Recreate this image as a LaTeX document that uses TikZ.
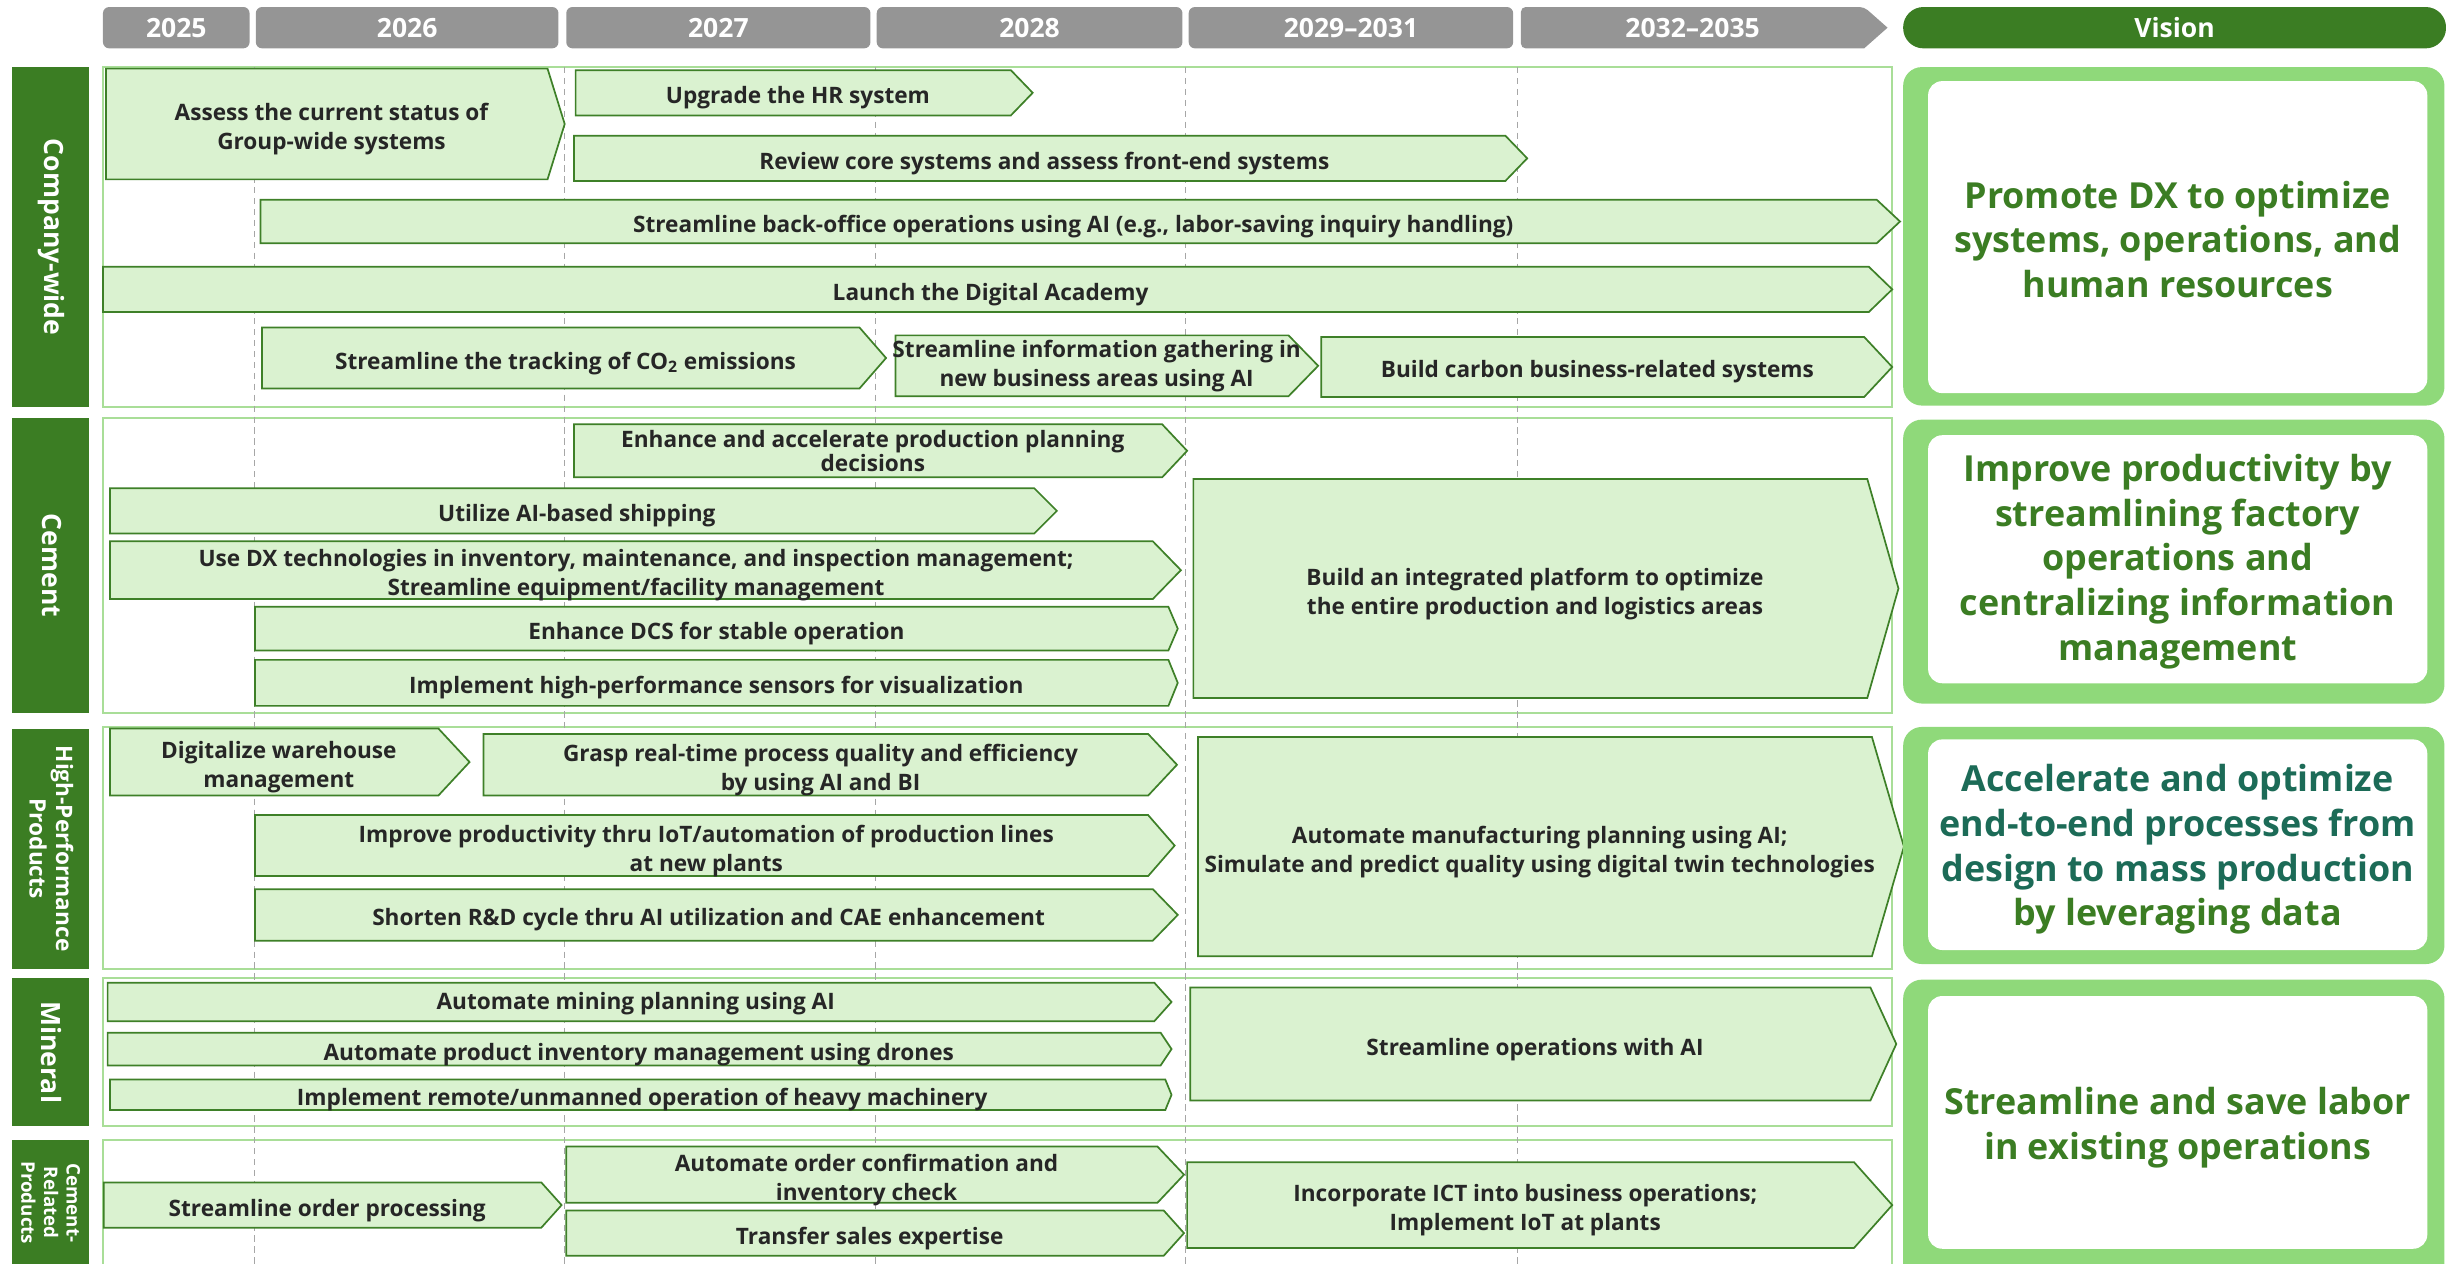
\documentclass[tikz,border=0pt]{standalone}
\usepackage{fontspec}
\setmainfont{Open Sans}
\definecolor{dkgreen}{HTML}{3B7D23}
\definecolor{boxfill}{HTML}{DAF2D0}
\definecolor{boxline}{HTML}{3E8028}
\definecolor{panelline}{HTML}{A9DE98}
\definecolor{visgreen}{HTML}{8FD97A}
\definecolor{hdrgrey}{HTML}{959595}
\definecolor{gridgrey}{HTML}{A6A6A6}
\definecolor{txt}{HTML}{262626}
\definecolor{visteal}{HTML}{1C6B57}
% [node options]{name}{x1}{x2 body right}{x tip}{y top}{y bottom}{text}
\newcommand{\chev}[8][]{%
  \draw[chevbox] (#3,#6) -- (#4,#6) -- (#5,{(#6+#7)/2}) -- (#4,#7) -- (#3,#7) -- cycle;
  \node[boxtext,#1] (#2) at ({(#3+#4)/2+3},{(#6+#7)/2}) {#8};
}
\begin{document}
\begin{tikzpicture}[x=1pt,y=-1pt,
  chevbox/.style={draw=boxline, fill=boxfill, line width=1.1pt, line join=miter},
  boxtext/.style={text=txt, font=\bfseries\fontsize{14.5}{18.5}\selectfont, align=center, inner sep=0pt, yshift=-3.3pt},
  panel/.style={draw=panelline, line width=1.2pt},
  gridline/.style={draw=gridgrey, line width=0.8pt, dash pattern=on 4pt off 3pt},
  yearbox/.style={fill=hdrgrey, rounded corners=4pt, minimum height=26.5pt, inner sep=0pt, text=white, font=\bfseries\fontsize{17}{20}\selectfont},
  yeartext/.style={text=white, font=\bfseries\fontsize{17}{20}\selectfont, inner sep=0pt},
  lbltext/.style={text=white, font=\bfseries\fontsize{17}{20}\selectfont, align=center, rotate=-90, inner sep=0pt},
  vistext/.style={text=dkgreen, font=\bfseries\fontsize{23}{28.7}\selectfont, align=center, inner sep=0pt},
]
\useasboundingbox (0,0) rectangle (1568,810);
\clip (0,0) rectangle (1568,810);

% ---------- header ----------
\node[yearbox, minimum width=94pt] (y25) at (113,17.75) {2025};
\node[yearbox, minimum width=194pt] (y26) at (261,17.75) {2026};
\node[yearbox, minimum width=195pt] (y27) at (460.5,17.75) {2027};
\node[yearbox, minimum width=196pt] (y28) at (660,17.75) {2028};
\node[yearbox, minimum width=208pt] (y29) at (866,17.75) {2029–2031};
\fill[hdrgrey, rounded corners=3pt] (975,4.5) -- (1195,4.5) [sharp corners] -- (1210,17.75) -- (1195,31) [rounded corners=3pt] -- (975,31) -- cycle;
\node[yeartext] (y32) at (1085,17.75) {2032–2035};
\node[fill=dkgreen, rounded corners=13pt, minimum width=348pt, minimum height=26.5pt, inner sep=0pt, text=white, font=\bfseries\fontsize{17}{20}\selectfont] (vision) at (1394,17.75) {Vision};

% ---------- row label bars ----------
\fill[dkgreen] (8,43) rectangle (57,261);
\fill[dkgreen] (8,268) rectangle (57,457);
\fill[dkgreen] (8,467) rectangle (57,621);
\fill[dkgreen] (8,627) rectangle (57,722);
\fill[dkgreen] (8,731) rectangle (57,815);
\node[lbltext] (lcw) at (33,152) {Company-wide};
\node[lbltext] (lce) at (33,362.5) {Cement};
\node[lbltext, font=\bfseries\fontsize{14.5}{17}\selectfont] (lhp) at (33,544) {High-Performance\\Products};
\node[lbltext] (lmi) at (33,674.5) {Mineral};
\node[lbltext, font=\bfseries\fontsize{12}{14.5}\selectfont] (lcr) at (32.5,771) {Cement-\\Related\\Products};

% ---------- section panels ----------
\draw[panel] (66,43) rectangle (1213,261);
\draw[panel] (66,268) rectangle (1213,457);
\draw[panel] (66,466) rectangle (1213,621);
\draw[panel] (66,627) rectangle (1213,722);
\draw[panel] (66,731) rectangle (1213,830);

% ---------- year grid ----------
\foreach \gx in {163,362,561,760,973}
  \draw[gridline] (\gx,43) -- (\gx,812);

% ---------- Company-wide ----------
\chev{cw1}{68}{351}{362}{44}{115}{Assess the current status of\\Group-wide systems}
\chev{cw2}{369}{648}{662}{45}{74}{Upgrade the HR system}
\chev{cw3}{368}{965}{979}{87}{116}{Review core systems and assess front-end systems}
\chev{cw4}{167}{1203}{1218}{128}{156}{Streamline back-office operations using AI (e.g., labor-saving inquiry handling)}
\chev{cw5}{66}{1198}{1213}{171}{200}{Launch the Digital Academy}
\chev{cw6}{168}{551}{568}{210}{249}{Streamline the tracking of CO\textsubscript{2} emissions}
\chev[yshift=3pt]{cw7}{574}{826}{845}{215}{254}{Streamline information gathering in\\new business areas using AI}
\chev{cw8}{847}{1195}{1213}{216}{254.5}{Build carbon business-related systems}

% ---------- Cement ----------
\chev[font=\bfseries\fontsize{14.5}{14}\selectfont, yshift=3.3pt]{ce1}{368}{745}{761}{272}{306}{Enhance and accelerate production planning\\decisions}
\chev{ce2}{70.5}{663}{677.5}{313}{342}{Utilize AI-based shipping}
\chev{ce3}{70.5}{739}{757}{347}{384}{Use DX technologies in inventory, maintenance, and inspection management;\\Streamline equipment/facility management}
\chev{ce4}{163.5}{749}{755}{389}{417}{Enhance DCS for stable operation}
\chev{ce5}{163.5}{749}{755}{423}{452.5}{Implement high-performance sensors for visualization}
\chev{ce6}{765}{1197}{1217}{307}{447.5}{Build an integrated platform to optimize\\the entire production and logistics areas}

% ---------- High-Performance Products ----------
\chev{hp1}{70.5}{281}{301}{467}{510}{Digitalize warehouse\\management}
\chev{hp2}{310}{736}{754.5}{470.5}{510}{Grasp real-time process quality and efficiency\\by using AI and BI}
\chev{hp3}{163.5}{736}{753}{522.5}{561.6}{Improve productivity thru IoT/automation of production lines\\at new plants}
\chev{hp4}{163.5}{739}{755}{570}{603}{Shorten R\&D cycle thru AI utilization and CAE enhancement}
\chev{hp5}{768}{1200}{1220.5}{472.5}{613}{Automate manufacturing planning using AI;\\Simulate and predict quality using digital twin technologies}

% ---------- Mineral ----------
\chev[yshift=2.3pt]{mi1}{69}{740}{751}{630}{654.6}{Automate mining planning using AI}
\chev{mi2}{69}{744}{751}{662}{683}{Automate product inventory management using drones}
\chev{mi3}{70.5}{747}{751}{692}{711.6}{Implement remote/unmanned operation of heavy machinery}
\chev{mi4}{763}{1199}{1215.6}{633}{705.5}{Streamline operations with AI}

% ---------- Cement-Related Products ----------
\chev{cr1}{66.5}{347}{360}{758}{787}{Streamline order processing}
\chev{cr2}{363}{742}{759}{735}{771}{Automate order confirmation and\\inventory check}
\chev{cr3}{363}{746}{759}{776}{805}{Transfer sales expertise}
\chev{cr4}{761}{1188.5}{1213}{745}{800}{Incorporate ICT into business operations;\\Implement IoT at plants}

% ---------- Vision panels ----------
\fill[visgreen, rounded corners=12pt] (1220,43) rectangle (1567,260);
\fill[white, rounded corners=9pt] (1236,52) rectangle (1556,252);
\fill[visgreen, rounded corners=12pt] (1220,269) rectangle (1567,451);
\fill[white, rounded corners=9pt] (1236,279) rectangle (1556,438);
\fill[visgreen, rounded corners=12pt] (1220,466) rectangle (1567,618);
\fill[white, rounded corners=9pt] (1236,474) rectangle (1556,609);
\fill[visgreen, rounded corners=12pt] (1220,628) rectangle (1567,830);
\fill[white, rounded corners=9pt] (1236,638.5) rectangle (1556,800.5);

\node[vistext] (v1) at (1396,153.5) {Promote DX to optimize\\systems, operations, and\\human resources};
\node[vistext] (v2) at (1396,360) {Improve productivity by\\streamlining factory\\operations and\\centralizing information\\management};
\node[vistext] (v3) at (1396,544.5) {\textcolor{visteal}{Accelerate and optimize}\\\textcolor{visteal}{end-to-end processes from}\\\textcolor{visteal}{design to mass production}\\by leveraging data};
\node[vistext] (v4) at (1396,723) {Streamline and save labor\\in existing operations};
\end{tikzpicture}
\end{document}
